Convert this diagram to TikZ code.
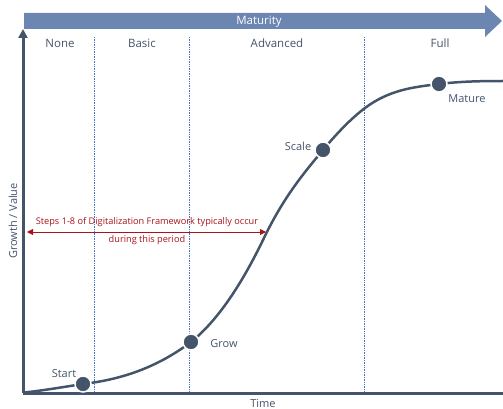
\documentclass[tikz,border=0pt]{standalone}
\usepackage{fontspec}
\setmainfont{Open Sans}
\usetikzlibrary{arrows.meta}
\definecolor{slate}{HTML}{44546A}
\definecolor{banner}{HTML}{6C86B2}
\definecolor{dotblue}{HTML}{4472C4}
\definecolor{darkred}{HTML}{A8141A}
\tikzset{
  lbl/.style={text=slate, font=\fontsize{11}{13}\selectfont, inner sep=0pt},
  stage/.style={text=slate, font=\fontsize{11.5}{13}\selectfont, inner sep=0pt},
  milestone/.style={circle, fill=slate, draw=white, line width=1.5pt, minimum size=16pt, inner sep=0pt},
  divider/.style={dotblue, densely dotted, line width=0.7pt},
  redtxt/.style={text=darkred, font=\fontsize{9.2}{11}\selectfont, inner sep=0pt}
}
\begin{document}
\begin{tikzpicture}[x=1pt,y=-1pt]
\useasboundingbox (0,0) rectangle (503,409);
% banner
\fill[banner] (24,13) -- (485,13) -- (485,5) -- (502,21) -- (485,37) -- (485,29) -- (24,29) -- cycle;
\node[text=white, font=\fontsize{11.5}{13}\selectfont, inner sep=0pt] (maturity) at (259,21.5) {Maturity};
% stage labels
\node[stage] (none) at (60,43) {None};
\node[stage] (basic) at (142,43) {Basic};
\node[stage] (adv) at (277,43) {Advanced};
\node[stage] (full) at (440,43) {Full};
% dividers
\coordinate (d1t) at (94,37); \coordinate (d1b) at (94,393);
\coordinate (d2t) at (189,37); \coordinate (d2b) at (189,393);
\coordinate (d3t) at (364,37); \coordinate (d3b) at (364,393);
\draw[divider] (d1t) -- (d1b);
\draw[divider] (d2t) -- (d2b);
\draw[divider] (d3t) -- (d3b);
% axes
\coordinate (o) at (23,393);
\coordinate (ytop) at (23,29);
\coordinate (xend) at (503,393);
\draw[slate, line width=3pt, -{Triangle[width=9pt,length=9pt]}] (o) -- (ytop);
\draw[slate, line width=3pt] (o) -- (xend);
\node[lbl, rotate=90] (yl) at (13,221) {Growth / Value};
\node[lbl, anchor=north] (xl) at (263,399) {Time};
% curve
\coordinate (p0) at (24,392.5);
\coordinate (pStart) at (83,384);
\coordinate (pGrow) at (191,342);
\coordinate (pInfl) at (263,240);
\coordinate (pScale) at (323,150);
\coordinate (pMid) at (365,108);
\coordinate (pMature) at (439,84);
\coordinate (pEnd) at (503,81);
\draw[slate, line width=2.5pt, line cap=round]
  (p0) .. controls (43,390.6) and (63,387) .. (pStart)
  .. controls (119,379.7) and (155,369) .. (pGrow)
  .. controls (215,322.8) and (239,289.6) .. (pInfl)
  .. controls (283,198) and (303,174) .. (pScale)
  .. controls (337,133.2) and (351,118.5) .. (pMid)
  .. controls (389.7,89.5) and (414.3,87) .. (pMature)
  .. controls (460.3,81.4) and (481.7,81) .. (pEnd);
\node[milestone] (start) at (pStart) {};
\node[milestone] (grow) at (pGrow) {};
\node[milestone] (scale) at (pScale) {};
\node[milestone] (mature) at (pMature) {};
\node[lbl] (startl) at (64,374) {Start};
\node[lbl] (growl) at (224,344) {Grow};
\node[lbl] (scalel) at (298,146) {Scale};
\node[lbl] (maturel) at (467,99) {Mature};
% red arrow
\coordinate (ra) at (27,232);
\coordinate (rb) at (266,232);
\draw[darkred, line width=0.9pt, {Triangle[width=6pt,length=6pt]}-{Triangle[width=6pt,length=6pt]}] (ra) -- (rb);
\node[redtxt] (r1) at (147,222) {Steps 1-8 of Digitalization Framework typically occur};
\node[redtxt] (r2) at (147,240) {during this period};
\end{tikzpicture}
\end{document}
